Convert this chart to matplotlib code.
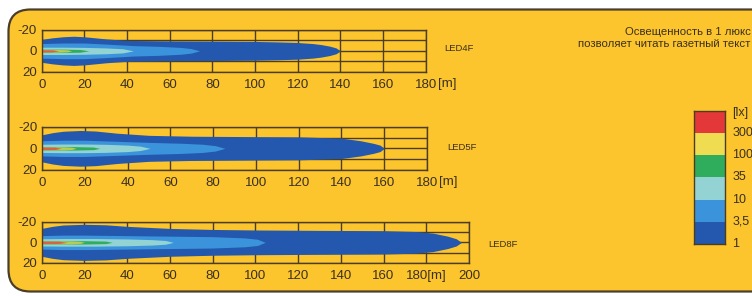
import numpy as np
import matplotlib.pyplot as plt
from matplotlib.patches import FancyBboxPatch

plt.rcParams['font.family'] = ['Liberation Sans', 'DejaVu Sans']

# isolux levels, from outer (1 lx) to inner (300 lx)
levels = ['1', '3,5', '10', '35', '100', '300']
level_colors = ['#2358ae', '#3b93db', '#93d3d3', '#2fad5c', '#f0dc50', '#e4373a']

# beam outlines: distance (m) and half width (m) per level
led4f_dist = [
    [0, 5, 10, 15, 20, 30, 40, 60, 80, 100, 110, 120, 127, 131, 135, 138, 140],
    [0, 10, 20, 30, 43, 55, 65, 70, 74],
    [0, 10, 20, 30, 38, 43],
    [0, 10, 18, 22],
    [0, 8, 12, 14],
    [0, 5, 8],
]
led4f_half = [
    [11, 12.5, 13.5, 14, 13.5, 11.5, 10, 9.5, 9.3, 9, 8.6, 8, 7, 6, 4.5, 2.8, 0],
    [7, 7.5, 7.5, 6.5, 5, 4.3, 3.3, 2.2, 0],
    [3.5, 3.5, 3.3, 2.8, 2, 0],
    [1.6, 1.6, 1.3, 0],
    [1.3, 1.3, 1, 0],
    [1.1, 1, 0],
]

led5f_dist = [
    [0, 5, 10, 18, 25, 35, 50, 70, 100, 120, 140, 149, 155, 158, 160],
    [0, 10, 20, 35, 50, 65, 75, 81, 85.5],
    [0, 10, 20, 30, 40, 46, 50.5],
    [0, 15, 24, 27],
    [0, 10, 14, 16],
    [0, 6, 9],
]
led5f_half = [
    [12.5, 14.5, 15.8, 16.5, 16, 14, 12, 11.2, 10.8, 10.6, 9.4, 7, 4.6, 3, 0],
    [7, 7.5, 7.5, 6.5, 5.5, 4.7, 3.8, 2.5, 0],
    [3.8, 4, 4, 3.7, 3, 2, 0],
    [1.6, 1.6, 1.2, 0],
    [1.4, 1.4, 1, 0],
    [1.2, 1.1, 0],
]

led8f_dist = [
    [0, 5, 10, 20, 30, 40, 60, 80, 100, 130, 160, 175, 183, 190, 194, 196.5],
    [0, 10, 20, 40, 60, 80, 95, 101, 104.6],
    [0, 10, 25, 40, 52, 58, 61.6],
    [0, 20, 30, 33],
    [0, 14, 18, 20],
    [0, 8, 12],
]
led8f_half = [
    [13.5, 15.5, 16.8, 17.5, 17, 15.5, 13.5, 12.5, 12, 11.6, 11.3, 10.5, 9, 6, 3.5, 0],
    [6.5, 7, 7, 6.5, 6, 5.5, 4.3, 3, 0],
    [3.5, 3.7, 3.7, 3.3, 2.6, 1.8, 0],
    [1.6, 1.6, 1.2, 0],
    [1.4, 1.4, 1, 0],
    [1.2, 1.1, 0],
]

x_ticks_short = [0, 20, 40, 60, 80, 100, 120, 140, 160, 180]
x_labels_short = ['0', '20', '40', '60', '80', '100', '120', '140', '160', '180']
x_ticks_long = [0, 20, 40, 60, 80, 100, 120, 140, 160, 180, 200]
x_labels_long = ['0', '20', '40', '60', '80', '100', '120', '140', '160', '180[m]', '200']

bg = '#fdc52d'
ink = '#3a3020'
line = '#4b3d1e'


def plot_beam(ax, dist, half, xmax, ticks, labels):
    for i in range(len(levels)):
        d = np.array(dist[i])
        w = np.array(half[i])
        a = 0.7 if i >= 4 else 1.0
        ax.fill_between(d, -w, w, color=level_colors[i], lw=0, alpha=a, zorder=2)
    ax.set_facecolor('none')
    ax.set_xlim(0, xmax)
    ax.set_ylim(20, -20)
    ax.set_xticks(ticks, labels)
    ax.set_yticks([-20, -10, 0, 10, 20], ['-20', '', '0', '', '20'])
    ax.grid(True, color=line, lw=1.0)
    ax.set_axisbelow(True)
    ax.tick_params(length=0, labelsize=9.5, labelcolor=ink)
    ax.tick_params(axis='x', pad=5)
    ax.tick_params(axis='y', pad=3.5)
    for s in ax.spines.values():
        s.set_color(line)
        s.set_linewidth(1.0)


fig = plt.figure(figsize=(7.52, 2.96), dpi=100)
fig.patch.set_facecolor('white')

frame = FancyBboxPatch((0.085, 0.045), 7.7, 2.82, boxstyle='round,pad=0,rounding_size=0.22',
                       transform=fig.dpi_scale_trans, facecolor=bg, edgecolor='#4a3e2a',
                       lw=1.6, zorder=-1)
fig.patches.append(frame)

ax1 = fig.add_axes([0.0555, 0.7578, 0.5106, 0.1409])
plot_beam(ax1, led4f_dist, led4f_half, 180, x_ticks_short, x_labels_short)
ax1.annotate('[m]', xy=(1, 0), xycoords='axes fraction', xytext=(12, -6.5),
             textcoords='offset pixels', ha='left', va='top', fontsize=9.5, color=ink)

ax2 = fig.add_axes([0.0559, 0.4257, 0.512, 0.1463])
plot_beam(ax2, led5f_dist, led5f_half, 180, x_ticks_short, x_labels_short)
ax2.annotate('[m]', xy=(1, 0), xycoords='axes fraction', xytext=(12, -6.5),
             textcoords='offset pixels', ha='left', va='top', fontsize=9.5, color=ink)

ax3 = fig.add_axes([0.0555, 0.1115, 0.5682, 0.1395])
plot_beam(ax3, led8f_dist, led8f_half, 200, x_ticks_long, x_labels_long)

fig.text(0.5904, 0.8345, 'LED4F', fontsize=6.8, color=ink, va='center')
fig.text(0.5944, 0.5, 'LED5F', fontsize=6.8, color=ink, va='center')
fig.text(0.649, 0.1723, 'LED8F', fontsize=6.8, color=ink, va='center')

fig.text(0.998, 0.892, 'Освещенность в 1 люкс', fontsize=8.2, color=ink, ha='right', va='center')
fig.text(0.998, 0.851, 'позволяет читать газетный текст', fontsize=8.2, color=ink,
         ha='right', va='center')

# legend bar
cax = fig.add_axes([0.9229, 0.1757, 0.0412, 0.4503])
for i in range(len(levels)):
    cax.bar(0, 1, bottom=i, width=1, color=level_colors[i], lw=0)
cax.set_xlim(-0.5, 0.5)
cax.set_ylim(0, len(levels))
cax.set_xticks([])
cax.set_yticks([])
for s in cax.spines.values():
    s.set_color(line)
    s.set_linewidth(1.0)
for i in range(len(levels)):
    cax.text(0.73, i, levels[i], fontsize=9, color=ink, va='center', ha='left')
cax.text(0.73, 5.88, '[lx]', fontsize=9, color=ink, va='center', ha='left')

fig.savefig('out.png', dpi=100)
